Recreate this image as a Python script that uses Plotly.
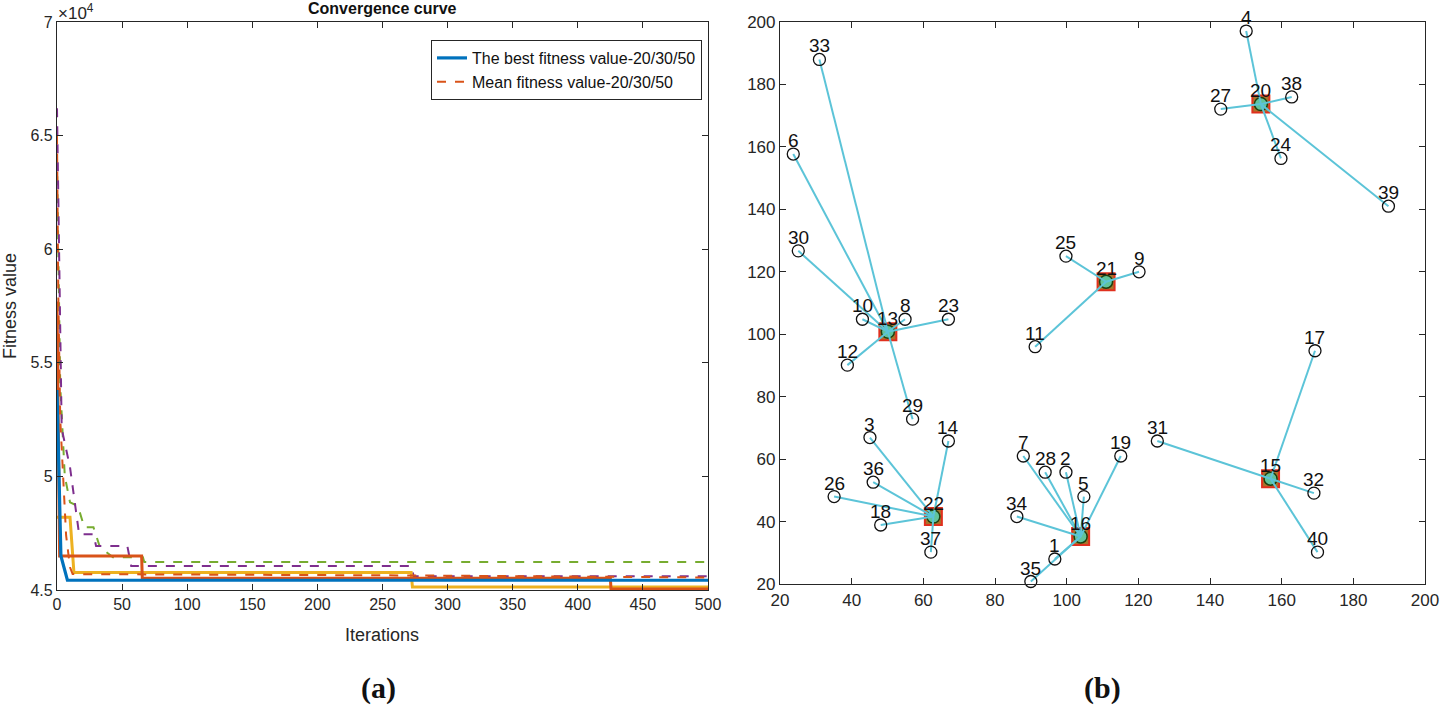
import plotly.graph_objects as go

# ---------------- Panel (a): convergence curves ----------------
best1_it = [0, 3, 8, 500]
best1_val = [53800, 46500, 45430, 45430]

best2_it = [0, 2, 65, 65.5, 425, 425.5, 500]
best2_val = [57700, 46500, 46500, 45520, 45520, 45040, 45040]

best3_it = [0, 10, 13, 272, 273, 500]
best3_val = [48200, 48200, 45770, 45770, 45130, 45130]

mean1_it = [0, 1, 2.5, 5, 7, 10, 12, 272, 425, 500]
mean1_val = [65000, 58000, 52500, 49300, 47400, 46000, 45700, 45640, 45570, 45550]

mean2_it = [0, 1, 3.6, 10, 17, 28, 30, 54, 57, 272, 274, 500]
mean2_val = [66200, 62000, 52100, 50400, 47450, 47450, 46940, 46940, 46060, 46060, 45600, 45600]

mean3_it = [0, 1, 2.5, 6, 10, 16, 21, 28, 33, 43, 66, 67, 500]
mean3_val = [64000, 60000, 54000, 50000, 48860, 48700, 47760, 47760, 46880, 46440, 46440, 46230, 46230]

a_xticks = [0, 50, 100, 150, 200, 250, 300, 350, 400, 450, 500]
a_yticks = [45000, 50000, 55000, 60000, 65000, 70000]
a_yticklabels = ["4.5", "5", "5.5", "6", "6.5", "7"]

# ---------------- Panel (b): clustering ----------------
pt_id = [33, 6, 30, 10, 8, 23, 12, 29,
         25, 9, 11,
         4, 27, 38, 24, 39,
         3, 14, 36, 26, 18, 37,
         7, 28, 2, 5, 34, 1, 35, 19,
         31, 17, 32, 40]
pt_x = [31.0, 23.7, 25.1, 43.0, 54.9, 67.0, 38.8, 57.0,
        99.8, 120.2, 91.2,
        150.1, 143.0, 162.8, 159.8, 189.8,
        45.1, 67.0, 46.0, 35.1, 48.1, 62.1,
        87.9, 94.0, 99.8, 104.8, 86.1, 96.7, 90.0, 115.1,
        125.3, 169.3, 169.0, 170.0]
pt_y = [188.0, 157.7, 126.7, 104.8, 104.8, 104.8, 90.1, 72.8,
        125.0, 120.0, 96.0,
        197.1, 172.1, 176.0, 156.3, 141.0,
        66.9, 65.8, 52.6, 48.0, 38.9, 30.2,
        61.0, 55.8, 55.8, 48.0, 41.6, 28.0, 20.8, 61.0,
        65.8, 94.7, 49.1, 30.2]
pt_cluster = [0, 0, 0, 0, 0, 0, 0, 0,
              1, 1, 1,
              2, 2, 2, 2, 2,
              3, 3, 3, 3, 3, 3,
              4, 4, 4, 4, 4, 4, 4, 4,
              5, 5, 5, 5]

ctr_id = [13, 21, 20, 22, 16, 15]
ctr_x = [50.1, 111.0, 154.2, 62.8, 103.9, 156.9]
ctr_y = [100.8, 116.8, 173.7, 41.6, 35.2, 53.7]

b_ticks = [20, 40, 60, 80, 100, 120, 140, 160, 180, 200]

# ---------------- Figure ----------------
W, H = 1440, 707
fig = go.Figure()

NARROW = "Liberation Sans Narrow, Arial Narrow, Liberation Sans, Arial, sans-serif"

BLUE = "#0072BD"
RED = "#D95319"
YEL = "#EDB120"
PUR = "#7E2F8E"
GRN = "#77AC30"
CYAN = "#5CC4D8"

def add_line(xs, ys, color, width, dash, name, show):
    fig.add_trace(go.Scatter(x=xs, y=ys, mode="lines", name=name,
                             line=dict(color=color, width=width, dash=dash),
                             showlegend=show, xaxis="x", yaxis="y"))

add_line(mean3_it, mean3_val, GRN, 2, "dash", "mean3", False)
add_line(mean2_it, mean2_val, PUR, 2, "dash", "mean2", False)
add_line(best3_it, best3_val, YEL, 3, "solid", "best3", False)
add_line(best2_it, best2_val, RED, 3, "solid", "best2", False)
add_line(best1_it, best1_val, BLUE, 3.2, "solid", "The best fitness value-20/30/50", True)
add_line(mean1_it, mean1_val, RED, 2, "dash", "Mean fitness value-20/30/50", True)

# panel (b): centers
fig.add_trace(go.Scatter(x=ctr_x, y=ctr_y, mode="markers", showlegend=False,
                         marker=dict(symbol="square", size=17, color="#A8742A",
                                     line=dict(color="#E0301E", width=2)),
                         cliponaxis=False, xaxis="x2", yaxis="y2"))
fig.add_trace(go.Scatter(x=ctr_x, y=ctr_y, mode="markers", showlegend=False,
                         marker=dict(symbol="circle", size=13, color="#62C49A",
                                     line=dict(color="#1F3F10", width=1.5)),
                         cliponaxis=False, xaxis="x2", yaxis="y2"))
# connection lines
lx, ly = [], []
for px_, py_, c in zip(pt_x, pt_y, pt_cluster):
    lx += [px_, ctr_x[c], None]
    ly += [py_, ctr_y[c], None]
fig.add_trace(go.Scatter(x=lx, y=ly, mode="lines", showlegend=False,
                         line=dict(color=CYAN, width=2),
                         xaxis="x2", yaxis="y2"))
# points
fig.add_trace(go.Scatter(x=pt_x, y=pt_y, mode="markers", showlegend=False,
                         marker=dict(symbol="circle-open", size=12,
                                     line=dict(color="#111111", width=1.3),
                                     color="#111111"),
                         cliponaxis=False, xaxis="x2", yaxis="y2"))

def px2x(p):
    return p / W

def py2y(p):
    return 1 - p / H

axis_common = dict(showline=True, linecolor="#262626", linewidth=1.2, mirror="allticks",
                   ticks="inside", ticklen=6, tickcolor="#262626", showgrid=False,
                   zeroline=False, automargin=False,
                   tickfont=dict(family=NARROW, size=16, color="#262626"))

fig.update_layout(
    width=W, height=H, autosize=False,
    margin=dict(l=0, r=0, t=0, b=0),
    paper_bgcolor="white", plot_bgcolor="white",
    font=dict(family=NARROW, color="#262626"),
    xaxis=dict(domain=[px2x(57), px2x(708)], range=[0, 500], tickvals=a_xticks,
               anchor="y", **axis_common),
    yaxis=dict(domain=[py2y(590), py2y(22)], range=[45000, 70000], tickvals=a_yticks,
               ticktext=a_yticklabels, anchor="x", **axis_common),
    xaxis2=dict(domain=[px2x(780), px2x(1425)], range=[20, 200], tickvals=b_ticks,
                anchor="y2", **axis_common),
    yaxis2=dict(domain=[py2y(584), py2y(22)], range=[20, 200], tickvals=b_ticks,
                anchor="x2", **axis_common),
    legend=dict(x=px2x(702), y=py2y(40), xanchor="right", yanchor="top",
                bgcolor="white", bordercolor="#262626", borderwidth=1,
                font=dict(family=NARROW, size=16, color="#111111"),
                tracegroupgap=2),
)
fig.layout.xaxis2.tickfont.size = 17
fig.layout.yaxis2.tickfont.size = 17

annos = [
    dict(text="<b>Convergence curve</b>", x=px2x(382), y=py2y(9), xanchor="center",
         yanchor="middle", font=dict(family="Liberation Sans, Arial, sans-serif", size=16, color="#111111")),
    dict(text="×10<sup>4</sup>", x=px2x(56), y=py2y(12), xanchor="left", yanchor="middle",
         font=dict(family=NARROW, size=17, color="#262626")),
    dict(text="Iterations", x=px2x(382), y=py2y(635), xanchor="center", yanchor="middle",
         font=dict(family=NARROW, size=18, color="#262626")),
    dict(text="Fitness value", x=px2x(10), y=py2y(306), xanchor="center", yanchor="middle",
         textangle=-90, font=dict(family=NARROW, size=18, color="#262626")),
    dict(text="<b>(a)</b>", x=px2x(378), y=py2y(688), xanchor="center", yanchor="middle",
         font=dict(family="Liberation Serif, Times New Roman, serif", size=30, color="#111111")),
    dict(text="<b>(b)</b>", x=px2x(1102), y=py2y(688), xanchor="center", yanchor="middle",
         font=dict(family="Liberation Serif, Times New Roman, serif", size=30, color="#111111")),
]
for a in annos:
    a.update(xref="paper", yref="paper", showarrow=False)

# point labels just above each circle
for i, x_, y_ in zip(pt_id + ctr_id, pt_x + ctr_x, pt_y + ctr_y):
    annos.append(dict(text=str(i), x=x_, y=y_, xref="x2", yref="y2", showarrow=False,
                      xanchor="center", yanchor="bottom", yshift=1,
                      font=dict(family=NARROW, size=19, color="#111111")))
fig.update_layout(annotations=annos)

fig.write_html("out.html", config={"displayModeBar": False},
               post_script="document.body.style.margin='0';")
